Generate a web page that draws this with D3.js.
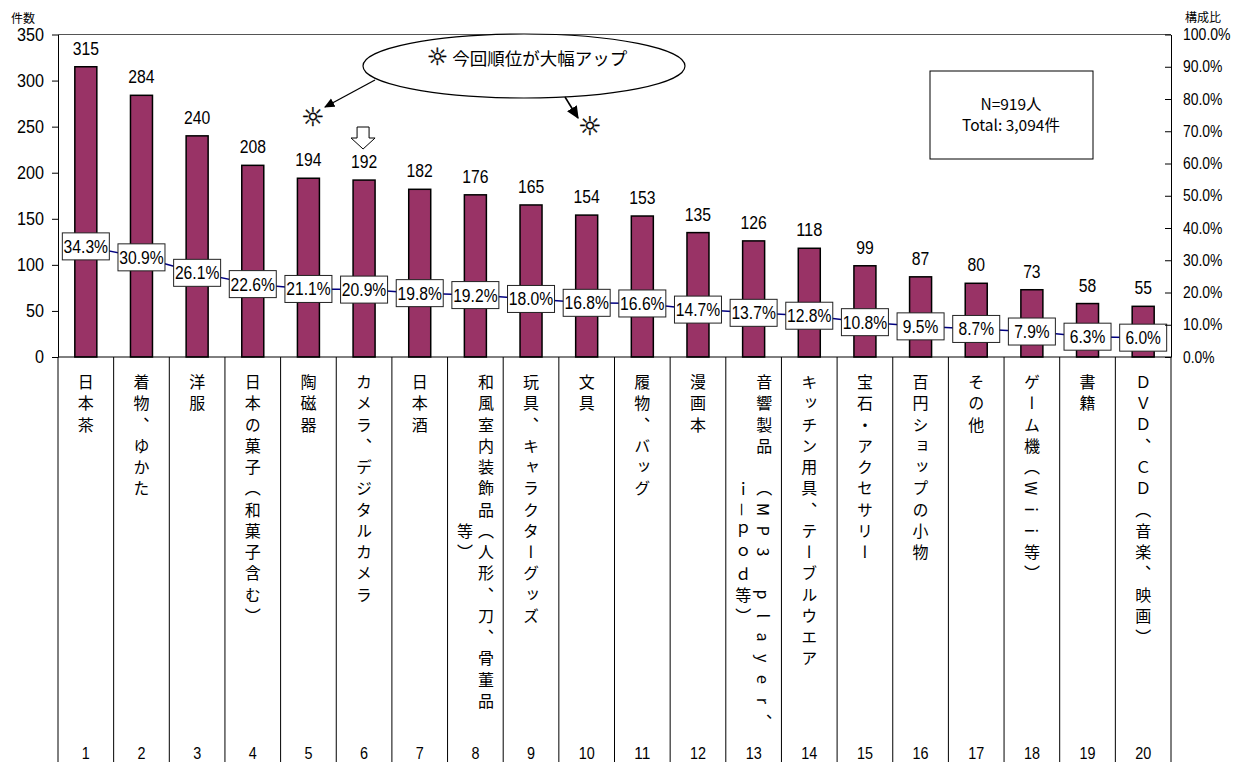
<!DOCTYPE html>
<html><head><meta charset="utf-8">
<script src="https://cdn.jsdelivr.net/npm/d3@7"></script>
<style>
body{margin:0;background:#fff;}
svg{display:block;font-family:"Liberation Sans","Noto Sans CJK JP",sans-serif;}
.jp{font-family:"Noto Sans CJK JP","Liberation Sans",sans-serif;}
.sun{font-family:"DejaVu Sans",sans-serif;font-weight:bold;stroke:#000;stroke-width:0.4px;}
</style></head><body>
<svg id="chart" width="1238" height="762"></svg>
<script>
// Souvenir categories (multi-column labels split with "\n")
const categories = [
  "日本茶","着物、ゆかた","洋服","日本の菓子（和菓子含む）","陶磁器","カメラ、デジタルカメラ","日本酒",
  "和風室内装飾品（人形、刀、骨董品\n等）","玩具、キャラクターグッズ","文具","履物、バッグ","漫画本",
  "音響製品 （MP3 player、\nｉ－ｐｏｄ等）","キッチン用具、テーブルウエア","宝石・アクセサリー","百円ショップの小物",
  "その他","ゲーム機（Wii等）","書籍","ＤＶＤ、ＣＤ（音楽、映画）"
];
const ranks = d3.range(1, 21);
const counts = [315,284,240,208,194,192,182,176,165,154,153,135,126,118,99,87,80,73,58,55];
const shares = [34.3,30.9,26.1,22.6,21.1,20.9,19.8,19.2,18.0,16.8,16.6,14.7,13.7,12.8,10.8,9.5,8.7,7.9,6.3,6.0];
const countTicks = [0,50,100,150,200,250,300,350];
const shareTicks = [0,0.1,0.2,0.3,0.4,0.5,0.6,0.7,0.8,0.9,1.0];
const respondents = 919;
const totalCount = 3094;

const svg = d3.select("#chart");
const L = 58, R = 1171, T = 34.5, B = 357;

const x = d3.scaleBand().domain(d3.range(categories.length)).range([L, R]).padding(0);
const y = d3.scaleLinear().domain([0, 350]).range([B, T]);
const y2 = d3.scaleLinear().domain([0, 1]).range([B, T]);
const bw = x.bandwidth();
const cx = i => x(i) + bw / 2;

// condensed numeral width (narrow gothic digits)
function narrowW(str, fs) {
  let w = 0;
  for (const ch of str) {
    if (ch === "." || ch === ",") w += 0.25 * fs;
    else if (ch === "%") w += 0.72 * fs;
    else w += 0.5 * fs;
  }
  return w;
}
function condense(sel, fs) {
  sel.attr("font-size", fs)
    .attr("textLength", function () { return narrowW(this.textContent, fs); })
    .attr("lengthAdjust", "spacingAndGlyphs");
}

// frame top
svg.append("line").attr("x1", L).attr("x2", R).attr("y1", T).attr("y2", T)
  .attr("stroke", "#555").attr("stroke-width", 1);

// bars
svg.append("g").selectAll("rect").data(counts).join("rect")
  .attr("x", (d, i) => cx(i) - 11)
  .attr("width", 22)
  .attr("y", d => y(d))
  .attr("height", d => B - y(d))
  .attr("fill", "#993366").attr("stroke", "#000").attr("stroke-width", 1.5);

// bar value labels
svg.append("g").selectAll("text").data(counts).join("text")
  .attr("x", (d, i) => cx(i)).attr("y", d => y(d) - 12)
  .attr("text-anchor", "middle").text(d => d)
  .call(condense, 17.5);

// share line
const line = d3.line().x((d, i) => cx(i)).y(d => y2(d / 100));
svg.append("path").datum(shares).attr("d", line)
  .attr("fill", "none").attr("stroke", "#000080").attr("stroke-width", 1.5);

// share label boxes
const box = svg.append("g").selectAll("g").data(shares).join("g")
  .attr("transform", (d, i) => `translate(${cx(i)},${y2(d / 100)})`);
box.append("rect").attr("x", -23.5).attr("y", -13.5).attr("width", 47).attr("height", 27)
  .attr("fill", "#fff").attr("stroke", "#222").attr("stroke-width", 1);
box.append("text").attr("text-anchor", "middle").attr("dy", "0.36em")
  .text(d => d.toFixed(1) + "%")
  .call(condense, 18);

// left axis
const ax = svg.append("g").attr("transform", `translate(${L},0)`)
  .call(d3.axisLeft(y).tickValues(countTicks).tickSize(6).tickSizeOuter(0).tickPadding(8));
ax.selectAll("text").attr("font-family", "Liberation Sans, sans-serif").attr("fill", "#000").call(condense, 18);
ax.selectAll("line,path").attr("stroke", "#000");

// right axis (ticks point inward)
const ax2 = svg.append("g").attr("transform", `translate(${R},0)`)
  .call(d3.axisRight(y2).tickValues(shareTicks).tickSize(-6).tickSizeOuter(0)
    .tickPadding(12).tickFormat(d3.format(".1%")));
ax2.selectAll("text").attr("font-family", "Liberation Sans, sans-serif").attr("fill", "#000").call(condense, 16);
ax2.selectAll("line,path").attr("stroke", "#000");

// axis titles
svg.append("text").attr("class", "jp").attr("x", 11).attr("y", 23).attr("font-size", 12).text("件数");
svg.append("text").attr("class", "jp").attr("x", 1185).attr("y", 22).attr("font-size", 12).text("構成比");

// baseline and category dividers
svg.append("line").attr("x1", L).attr("x2", R).attr("y1", B).attr("y2", B).attr("stroke", "#000");
svg.append("g").selectAll("line").data(d3.range(categories.length + 1)).join("line")
  .attr("x1", i => L + i * bw).attr("x2", i => L + i * bw)
  .attr("y1", B).attr("y2", 762).attr("stroke", "#000").attr("stroke-width", 1);

// vertical category labels
const step = 21.25, top0 = 382, colGap = 21;
const labG = svg.append("g").attr("class", "jp");
categories.forEach((lab, i) => {
  const cols = lab.split("\n");
  const maxLen = d3.max(cols, c => Array.from(c).length);
  cols.forEach((c, j) => {
    const chars = Array.from(c);
    const off = (maxLen - chars.length) / 2;
    labG.append("text")
      .attr("x", cx(i) + ((cols.length - 1) / 2 - j) * colGap)
      .attr("y", chars.map((_, k) => (top0 + (off + k) * step).toFixed(2)).join(" "))
      .attr("text-anchor", "middle")
      .style("writing-mode", "vertical-rl")
      .attr("font-size", 16)
      .text(c);
  });
});

// rank numbers
svg.append("g").selectAll("text").data(ranks).join("text")
  .attr("x", (d, i) => cx(i)).attr("y", 759)
  .attr("text-anchor", "middle").text(d => d)
  .call(condense, 16);

// note box
svg.append("rect").attr("x", 930).attr("y", 71).attr("width", 163).attr("height", 88)
  .attr("fill", "#fff").attr("stroke", "#000").attr("stroke-width", 1);
svg.append("text").attr("class", "jp").attr("x", 1011).attr("y", 110).attr("text-anchor", "middle").attr("font-size", 15.5)
  .text(`N=${respondents}人`);
svg.append("text").attr("class", "jp").attr("x", 1011).attr("y", 131).attr("text-anchor", "middle").attr("font-size", 15.5)
  .text(`Total: ${d3.format(",")(totalCount)}件`);

// callout: ranking jumped
const defs = svg.append("defs");
defs.append("marker").attr("id", "ah").attr("viewBox", "0 0 10 10").attr("refX", 9).attr("refY", 5)
  .attr("markerWidth", 8).attr("markerHeight", 8).attr("orient", "auto")
  .append("path").attr("d", "M0,0.5 L10,5 L0,9.5 Z").attr("fill", "#000");
svg.append("ellipse").attr("cx", 524).attr("cy", 66).attr("rx", 161).attr("ry", 32)
  .attr("fill", "#fff").attr("stroke", "#000").attr("stroke-width", 1.2);
const call = svg.append("text").attr("x", 527).attr("y", 65).attr("text-anchor", "middle");
call.append("tspan").attr("class", "sun").attr("font-size", 24).text("☼");
call.append("tspan").attr("class", "jp").attr("font-size", 17.5).attr("dx", 4).text("今回順位が大幅アップ");
svg.append("line").attr("x1", 375).attr("y1", 80).attr("x2", 325).attr("y2", 107)
  .attr("stroke", "#000").attr("stroke-width", 1.3).attr("marker-end", "url(#ah)");
svg.append("line").attr("x1", 565).attr("y1", 97).attr("x2", 578).attr("y2", 118)
  .attr("stroke", "#000").attr("stroke-width", 1.6).attr("marker-end", "url(#ah)");
svg.append("text").attr("class", "sun").attr("x", 313).attr("y", 126).attr("text-anchor", "middle").attr("font-size", 26).text("☼");
svg.append("text").attr("class", "sun").attr("x", 590).attr("y", 135).attr("text-anchor", "middle").attr("font-size", 26).text("☼");

// hollow down arrow over rank 6
const ax6 = cx(5) - 1;
svg.append("path")
  .attr("d", `M${ax6-6},127 H${ax6+6} V138 H${ax6+12} L${ax6},149 L${ax6-12},138 H${ax6-6} Z`)
  .attr("fill", "#fff").attr("stroke", "#000").attr("stroke-width", 1);
</script>
</body></html>
